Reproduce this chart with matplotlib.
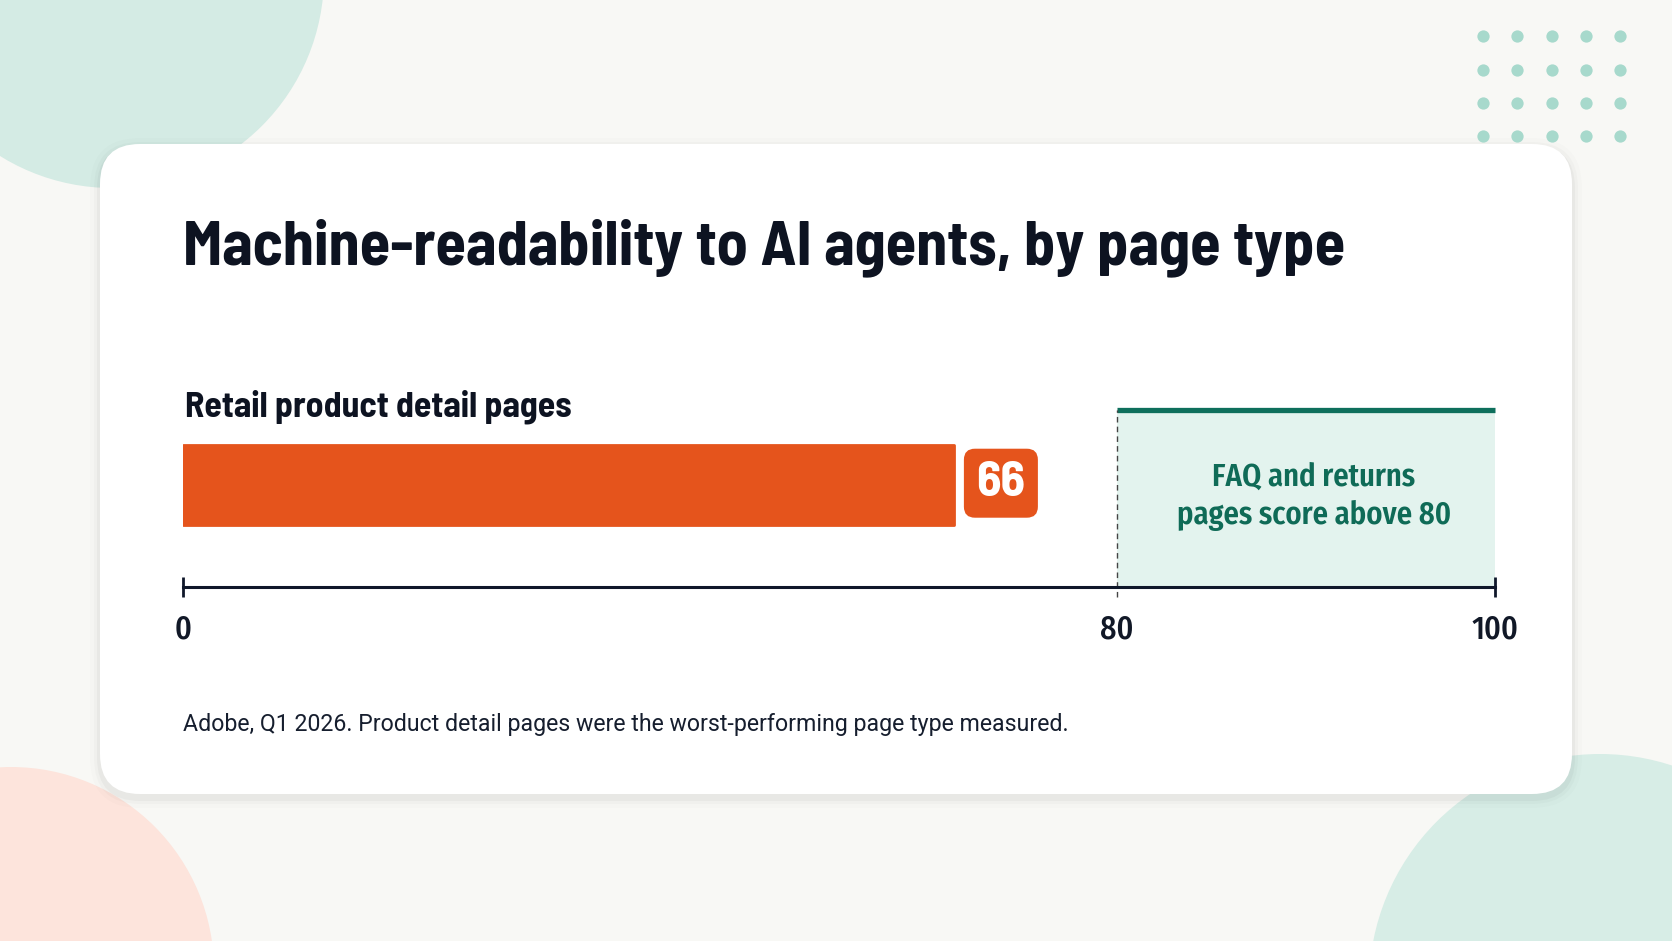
import numpy as np
import matplotlib
matplotlib.use("Agg")
import matplotlib.pyplot as plt
from matplotlib.patches import Circle, FancyBboxPatch

# data
categories = ["Retail product detail pages"]
scores = [66]
band_start = 80
band_end = 100
tick_values = [0, 80, 100]
band_label = "FAQ and returns\npages score above 80"
title = "Machine-readability to AI agents, by page type"
footnote = "Adobe, Q1 2026. Product detail pages were the worst-performing page type measured."

cond = ["Barlow Semi Condensed", "Roboto", "DejaVu Sans"]
plt.rcParams["font.family"] = ["Roboto", "DejaVu Sans"]

W, H = 1672, 941
fig = plt.figure(figsize=(W / 100, H / 100), dpi=100)
fig.patch.set_facecolor("#f8f8f5")

# decor, pixel coords
bg = fig.add_axes([0, 0, 1, 1])
bg.set_xlim(0, W)
bg.set_ylim(H, 0)
bg.axis("off")
bg.add_patch(Circle((112, -24), 212, color="#d4ebe4", lw=0))
bg.add_patch(Circle((11, 970), 203, color="#fde4dc", lw=0))
bg.add_patch(Circle((1600, 985), 231, color="#d7ede6", lw=0))
for k, a in [(10, 0.012), (6, 0.02), (3, 0.03)]:
    bg.add_patch(FancyBboxPatch((100 - k, 144 - k + 4), 1472 + 2 * k, 650 + 2 * k,
                                boxstyle="round,pad=0,rounding_size=%d" % (40 + k),
                                fc="#000000", ec="none", alpha=a))
bg.add_patch(FancyBboxPatch((100, 144), 1472, 650, boxstyle="round,pad=0,rounding_size=40",
                            fc="#ffffff", ec="none"))
gx, gy = np.meshgrid([1483, 1517, 1552, 1586, 1620], [36, 70, 103, 136])
bg.scatter(gx.ravel(), gy.ravel(), s=78, color="#a7d9cc", lw=0)

renderer = fig.canvas.get_renderer()


def fit(t, width):
    w = t.get_window_extent(renderer).width
    t.set_fontsize(t.get_fontsize() * width / w)


t1 = bg.text(183, 264, title, fontsize=46, fontweight="bold", color="#0d1321",
             family=cond, va="baseline")
fit(t1, 1163)
t2 = bg.text(185, 416, categories[0], fontsize=25, fontweight="bold", color="#0d1321",
             family=cond, va="baseline")
fit(t2, 388)
t3 = bg.text(183, 725, footnote, fontsize=16.5, color="#161e2e", va="center")
fit(t3, 883)

# chart axes
ax = fig.add_axes([183 / W, (H - 586.5) / H, (1495 - 183) / W, 176 / H])
ax.set_facecolor("none")


def fwd(x):
    return np.interp(x, [0, 80, 100], [0, 71.2, 100])


def inv(x):
    return np.interp(x, [0, 71.2, 100], [0, 80, 100])


ax.set_xscale("function", functions=(fwd, inv))
ax.set_xlim(0, 100)
ax.set_ylim(0, 1)

ybar = 0.579
ax.axvspan(band_start, band_end, color="#e3f3ee", lw=0, zorder=0)
ax.hlines(1, band_start, band_end, color="#0e6f5c", lw=3.8, clip_on=False)
ax.vlines(band_start, -0.061, 1, color="#444444", lw=1, linestyles=(0, (4, 3)), clip_on=False)
ax.text((band_start + band_end) / 2 + 0.4, 0.51, band_label, ha="center", va="center",
        fontsize=22, fontweight="semibold", color="#0f6b57", linespacing=1.3,
        family=["Fira Sans Condensed", "Roboto", "DejaVu Sans"])

ax.barh([ybar], scores, height=0.4545, color="#e5541c", ec="#e5541c", lw=2,
        joinstyle="round")
for v in scores:
    ax.annotate(str(v), xy=(v, ybar), xytext=(34, 1), textcoords="offset points",
                ha="center", va="center", fontsize=36, fontweight="bold", color="white",
                family=cond,
                bbox=dict(boxstyle="round,pad=0.25,rounding_size=0.22", fc="#e5541c", ec="none"))

for s in ["top", "left", "right"]:
    ax.spines[s].set_visible(False)
ax.spines["bottom"].set_color("#0f172a")
ax.spines["bottom"].set_linewidth(2.2)
ax.set_yticks([])
ax.set_xticks(tick_values)
ax.set_xticklabels([str(v) for v in tick_values], family=["Fira Sans Condensed", "Roboto", "DejaVu Sans"],
                   fontweight="medium")
ax.tick_params(axis="x", direction="inout", length=15, width=2, color="#0f172a", pad=12,
               labelsize=23, labelcolor="#111827")
ax.xaxis.get_major_ticks()[1].tick1line.set_visible(False)

fig.savefig("out.png", dpi=100, facecolor=fig.get_facecolor())
